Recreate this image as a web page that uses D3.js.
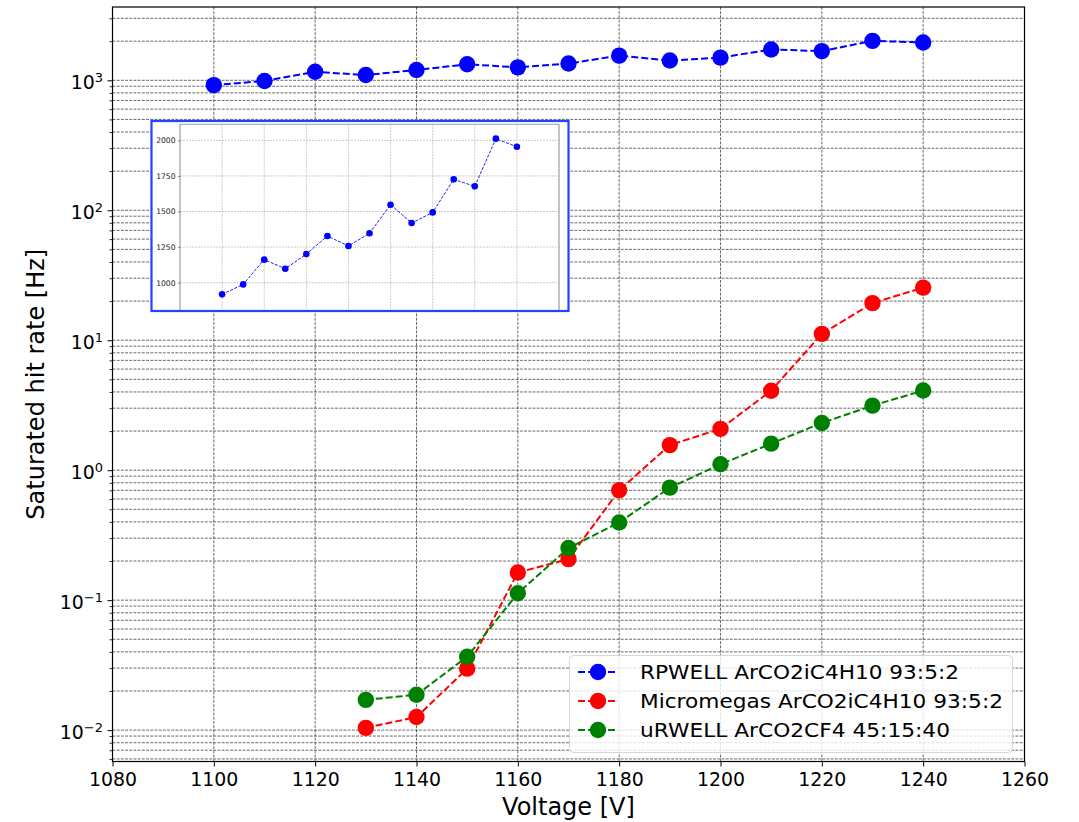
<!DOCTYPE html>
<html>
<head>
<meta charset="utf-8">
<script src="https://cdn.jsdelivr.net/npm/d3@7"></script>
<style>
  html, body { margin: 0; padding: 0; background: #fff; }
  svg { display: block; font-family: "DejaVu Sans", sans-serif; }
</style>
</head>
<body>
<svg id="chart" width="1079" height="822"></svg>
<script>
// Operating voltage of each scan point [V]
const voltsRPWELL = [1100, 1110, 1120, 1130, 1140, 1150, 1160, 1170, 1180, 1190, 1200, 1210, 1220, 1230, 1240];
const voltsMicromegas = [1130, 1140, 1150, 1160, 1170, 1180, 1190, 1200, 1210, 1220, 1230, 1240];
const voltsURWELL = [1130, 1140, 1150, 1160, 1170, 1180, 1190, 1200, 1210, 1220, 1230, 1240];

// Saturated hit rate [Hz]
const rateRPWELL = [918, 988, 1162, 1098, 1201, 1328, 1258, 1347, 1548, 1419, 1494, 1726, 1677, 2012, 1955];
const rateMicromegas = [0.0104, 0.0126, 0.0297, 0.163, 0.207, 0.70, 1.56, 2.08, 4.09, 11.2, 19.3, 25.4];
const rateURWELL = [0.0171, 0.0187, 0.0367, 0.113, 0.252, 0.396, 0.734, 1.11, 1.60, 2.31, 3.14, 4.10];

// Axis ticks
const xTickValues = [1080, 1100, 1120, 1140, 1160, 1180, 1200, 1220, 1240, 1260];
const yDecades = [-2, -1, 0, 1, 2, 3];
const insetYTicks = [1000, 1250, 1500, 1750, 2000];

const seriesLabels = ["RPWELL ArCO2iC4H10 93:5:2", "Micromegas ArCO2iC4H10 93:5:2", "uRWELL ArCO2CF4 45:15:40"];
const seriesColors = ["#0000ff", "#ff0000", "#008000"];

const svg = d3.select("#chart");
const FONT = "DejaVu Sans, sans-serif";

// Main axes box
const L = 112.5, R = 1024.5, T = 7, B = 761.5;
const x = d3.scaleLinear().domain([1080, 1260]).range([L, R]);
const y = d3.scaleLog().domain([Math.pow(10, -2.2415), Math.pow(10, 3.564)]).range([B, T]);

// Minor/major log positions for the grid
const yAll = [];
yDecades.concat([-3]).forEach(d => {
  for (let m = 1; m <= 9; m++) {
    const v = m * Math.pow(10, d);
    if (v >= y.domain()[0] && v <= y.domain()[1]) yAll.push(v);
  }
});
const yMajors = yDecades.map(d => Math.pow(10, d));
const yMinors = yAll.filter(v => !yMajors.some(m => Math.abs(m - v) / m < 1e-9));

// Grid
const grid = svg.append("g").attr("stroke", "#444").attr("stroke-width", 0.8).attr("stroke-dasharray", "2.9,1.3");
grid.selectAll("line.h").data(yAll).join("line")
  .attr("x1", L).attr("x2", R)
  .attr("y1", d => y(d)).attr("y2", d => y(d));
grid.selectAll("line.v").data(xTickValues).join("line")
  .attr("y1", T).attr("y2", B)
  .attr("x1", d => x(d)).attr("x2", d => x(d));

// Axes ticks
const xAxis = svg.append("g").attr("transform", `translate(0,${B})`)
  .call(d3.axisBottom(x).tickValues(xTickValues).tickSize(5).tickPadding(6.5).tickFormat(d3.format("d")));
xAxis.select(".domain").remove();
xAxis.selectAll("line").attr("stroke", "#000").attr("stroke-width", 1);
xAxis.selectAll("text").attr("font-family", FONT).attr("font-size", 18.9).attr("fill", "#000");

const yAxisMinor = svg.append("g").attr("transform", `translate(${L},0)`)
  .call(d3.axisLeft(y).tickValues(yMinors).tickSize(3).tickFormat(""));
yAxisMinor.select(".domain").remove();
yAxisMinor.selectAll("line").attr("stroke", "#000").attr("stroke-width", 0.8);

const yAxis = svg.append("g").attr("transform", `translate(${L},0)`)
  .call(d3.axisLeft(y).tickValues(yMajors).tickSize(5).tickFormat(""));
yAxis.select(".domain").remove();
yAxis.selectAll("line").attr("stroke", "#000").attr("stroke-width", 1);
yAxis.selectAll(".tick").each(function(d) {
  const e = Math.round(Math.log10(d));
  const t = d3.select(this).append("text")
    .attr("x", -9.5).attr("y", 8.6)
    .attr("text-anchor", "end")
    .attr("font-family", FONT).attr("fill", "#000");
  t.append("tspan").attr("font-size", 18.9).text("10");
  t.append("tspan").attr("font-size", 13).attr("dy", -7.6)
    .text(e < 0 ? "\u2212" + Math.abs(e) : String(e));
});

// Axis titles
svg.append("text")
  .attr("x", (L + R) / 2).attr("y", 814.5)
  .attr("text-anchor", "middle")
  .attr("font-family", FONT).attr("font-size", 24).attr("fill", "#000")
  .text("Voltage [V]");
svg.append("text")
  .attr("transform", `translate(44,${(T + B) / 2}) rotate(-90)`)
  .attr("text-anchor", "middle")
  .attr("font-family", FONT).attr("font-size", 24).attr("fill", "#000")
  .text("Saturated hit rate [Hz]");

// Data series
const series = [
  { xs: voltsRPWELL, ys: rateRPWELL },
  { xs: voltsMicromegas, ys: rateMicromegas },
  { xs: voltsURWELL, ys: rateURWELL }
];
const line = d3.line().x(d => x(d[0])).y(d => y(d[1]));
series.forEach((s, i) => {
  const pts = s.xs.map((v, k) => [v, s.ys[k]]);
  const g = svg.append("g");
  g.append("path").attr("d", line(pts))
    .attr("fill", "none").attr("stroke", seriesColors[i])
    .attr("stroke-width", 2).attr("stroke-dasharray", "7,3");
  g.selectAll("circle").data(pts).join("circle")
    .attr("cx", d => x(d[0])).attr("cy", d => y(d[1]))
    .attr("r", 8.2).attr("fill", seriesColors[i]);
});

// Spines
svg.append("rect").attr("x", L).attr("y", T).attr("width", R - L).attr("height", B - T)
  .attr("fill", "none").attr("stroke", "#000").attr("stroke-width", 1.2);

// Inset: RPWELL on a linear scale
const inset = svg.append("g");
inset.append("rect").attr("x", 151.5).attr("y", 121).attr("width", 417).attr("height", 190)
  .attr("fill", "#fff").attr("stroke", "#1e46ff").attr("stroke-width", 2.2);
const iL = 180, iR = 559, iT = 124.3, iB = 310;
const xi = d3.scaleLinear().domain([1080, 1260]).range([iL, iR]);
const yi = d3.scaleLinear().domain([801, 2113]).range([311, iT]);
const igrid = inset.append("g").attr("stroke", "#aaa").attr("stroke-width", 0.6).attr("stroke-dasharray", "2,1");
igrid.selectAll("line.h").data(insetYTicks).join("line")
  .attr("x1", iL).attr("x2", iR).attr("y1", d => yi(d)).attr("y2", d => yi(d));
igrid.selectAll("line.v").data(xTickValues).join("line")
  .attr("x1", d => xi(d)).attr("x2", d => xi(d)).attr("y1", iT).attr("y2", iB);
inset.append("path")
  .attr("d", `M${iL},${iB} V${iT} H${iR} V${iB}`)
  .attr("fill", "none").attr("stroke", "#888").attr("stroke-width", 0.8);
const iyAxis = inset.append("g").attr("transform", `translate(${iL},0)`)
  .call(d3.axisLeft(yi).tickValues(insetYTicks).tickSize(1.5).tickPadding(3).tickFormat(d3.format("d")));
iyAxis.select(".domain").remove();
iyAxis.selectAll("line").attr("stroke", "#555");
iyAxis.selectAll("text").attr("font-family", FONT).attr("font-size", 7.6).attr("fill", "#222");
const insetPts = voltsRPWELL.map((v, k) => [v, rateRPWELL[k]]);
inset.append("path")
  .attr("d", d3.line().x(d => xi(d[0])).y(d => yi(d[1]))(insetPts))
  .attr("fill", "none").attr("stroke", "#0000ff").attr("stroke-width", 0.9)
  .attr("stroke-dasharray", "3,1.5");
inset.selectAll("circle").data(insetPts).join("circle")
  .attr("cx", d => xi(d[0])).attr("cy", d => yi(d[1]))
  .attr("r", 3.3).attr("fill", "#0000ff");

// Legend
const legend = svg.append("g");
legend.append("rect").attr("x", 569.5).attr("y", 655.5).attr("width", 443).attr("height", 97)
  .attr("rx", 4).attr("fill", "#fff").attr("fill-opacity", 0.8)
  .attr("stroke", "#d6d6d6").attr("stroke-width", 1);
const textLengths = [319, 363, 310];
seriesLabels.forEach((lab, i) => {
  const cy = 672 + i * 29;
  legend.append("line").attr("x1", 578).attr("x2", 618).attr("y1", cy).attr("y2", cy)
    .attr("stroke", seriesColors[i]).attr("stroke-width", 2).attr("stroke-dasharray", "7,3");
  legend.append("circle").attr("cx", 598).attr("cy", cy).attr("r", 8.2).attr("fill", seriesColors[i]);
  legend.append("text").attr("x", 640).attr("y", cy + 7)
    .attr("font-family", FONT).attr("font-size", 19.5).attr("fill", "#000")
    .attr("textLength", textLengths[i]).attr("lengthAdjust", "spacingAndGlyphs")
    .text(lab);
});
</script>
</body>
</html>
